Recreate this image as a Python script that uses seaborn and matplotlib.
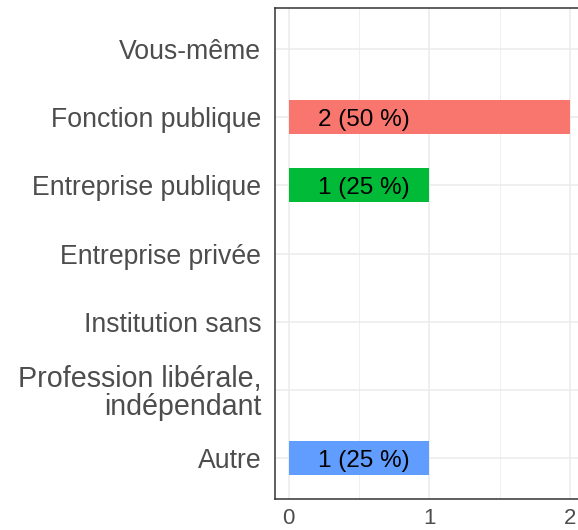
import matplotlib
matplotlib.use("Agg")
import matplotlib.pyplot as plt
import pandas as pd
import seaborn as sns

# data
categories = ["Vous-même", "Fonction publique", "Entreprise publique",
              "Entreprise privée", "Institution sans",
              "Profession libérale,\nindépendant", "Autre"]
counts = [0, 2, 1, 0, 0, 0, 1]
labels = ["", "2 (50 %)", "1 (25 %)", "", "", "", "1 (25 %)"]
bar_colors = ["#FFFFFF", "#F8766D", "#00BA38", "#FFFFFF", "#FFFFFF", "#FFFFFF", "#619CFF"]
xticks = [0, 1, 2]

df = pd.DataFrame({"categorie": categories, "n": counts})

sns.set_style("white")
plt.rcParams["font.family"] = ["Liberation Sans", "DejaVu Sans"]

fig = plt.figure(figsize=(5.78, 5.30), dpi=100)
# panel runs past the right edge like in the reference
ax = fig.add_axes([274.5 / 578, 1 - 499 / 530, (584 - 274.5) / 578, 491 / 530])

sns.barplot(data=df, y="categorie", x="n", hue="categorie",
            palette=dict(zip(categories, bar_colors)), width=0.5,
            legend=False, ax=ax, saturation=1, linewidth=0)

# grid
ax.set_xticks([0.5, 1.5], minor=True)
ax.grid(which="major", axis="both", color="#EBEBEB", linewidth=1.1)
ax.grid(which="minor", axis="x", color="#EBEBEB", linewidth=0.55)
ax.set_axisbelow(True)

ax.set_xlim(-0.1, 2.1)
ax.set_ylim(6.6, -0.6)
ax.set_xticks(xticks)
ax.set_xticklabels([str(t) for t in xticks])

# labels on bars
for i, (v, lab) in enumerate(zip(counts, labels)):
    if lab:
        ax.text(0.535, i + 0.04, lab, ha="center", va="center", fontsize=17.5, color="black")

for s in ax.spines.values():
    s.set_color("#333333")
    s.set_linewidth(1.1)

ax.tick_params(axis="both", which="major", length=5, width=1.1, color="#333333",
               labelcolor="#4D4D4D")
ax.tick_params(axis="y", labelsize=19.2, pad=4.5)
ax.tick_params(axis="x", labelsize=16, pad=1.5)
ax.tick_params(axis="x", which="minor", length=0)
for t in ax.get_yticklabels():
    t.set_linespacing(1.0)
    if "\n" in t.get_text():
        t.set_fontsize(20.6)
ax.set_xlabel("")
ax.set_ylabel("")

fig.savefig("out.png", dpi=100)
